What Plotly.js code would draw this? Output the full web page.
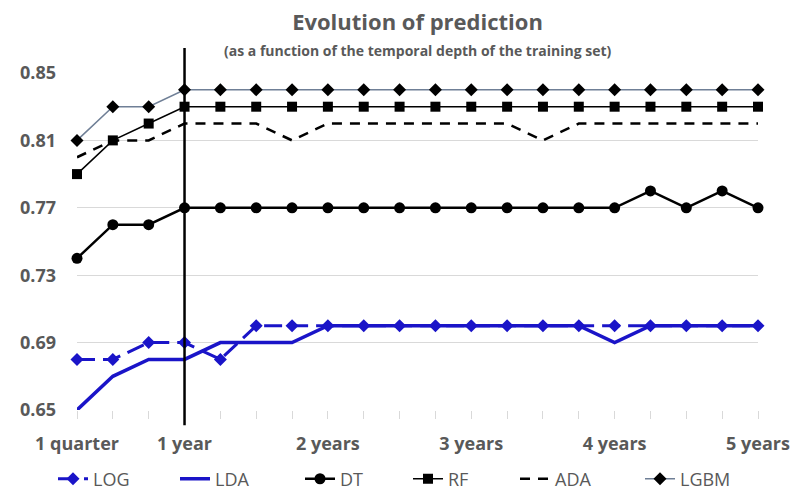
<!DOCTYPE html>
<html>
<head>
<meta charset="utf-8">
<script src="https://cdn.plot.ly/plotly-3.0.1.min.js"></script>
<style>html,body{margin:0;padding:0;background:#fff;}#chart{width:798px;height:490px;}</style>
</head>
<body>
<div id="chart"></div>
<script>
const xIdx = [1,2,3,4,5,6,7,8,9,10,11,12,13,14,15,16,17,18,19,20];
const tickPositions = [1,4,8,12,16,20];
const tickLabels = ["1 quarter","1 year","2 years","3 years","4 years","5 years"];
const yTicks = [0.65,0.69,0.73,0.77,0.81,0.85];

const LOG  = [0.68,0.68,0.69,0.69,0.68,0.70,0.70,0.70,0.70,0.70,0.70,0.70,0.70,0.70,0.70,0.70,0.70,0.70,0.70,0.70];
const LDA  = [0.65,0.67,0.68,0.68,0.69,0.69,0.69,0.70,0.70,0.70,0.70,0.70,0.70,0.70,0.70,0.69,0.70,0.70,0.70,0.70];
const DT   = [0.74,0.76,0.76,0.77,0.77,0.77,0.77,0.77,0.77,0.77,0.77,0.77,0.77,0.77,0.77,0.77,0.78,0.77,0.78,0.77];
const RF   = [0.79,0.81,0.82,0.83,0.83,0.83,0.83,0.83,0.83,0.83,0.83,0.83,0.83,0.83,0.83,0.83,0.83,0.83,0.83,0.83];
const ADA  = [0.80,0.81,0.81,0.82,0.82,0.82,0.81,0.82,0.82,0.82,0.82,0.82,0.82,0.81,0.82,0.82,0.82,0.82,0.82,0.82];
const LGBM = [0.81,0.83,0.83,0.84,0.84,0.84,0.84,0.84,0.84,0.84,0.84,0.84,0.84,0.84,0.84,0.84,0.84,0.84,0.84,0.84];
const markerYear = 4;

const blue = '#1a14c8';
const grey = '#595959';
const font = '"Open Sans", sans-serif';

const traces = [
  {name:'LOG', x:xIdx, y:LOG, mode:'lines+markers', line:{color:blue, width:3, dash:'18px,8px'}, marker:{symbol:'diamond', size:10, color:blue}},
  {name:'LDA', x:xIdx, y:LDA, mode:'lines', line:{color:blue, width:3.5}},
  {name:'DT', x:xIdx, y:DT, mode:'lines+markers', line:{color:'#000', width:2.5}, marker:{symbol:'circle', size:11, color:'#000'}},
  {name:'RF', x:xIdx, y:RF, mode:'lines+markers', line:{color:'#000', width:1.5}, marker:{symbol:'square', size:10, color:'#000'}},
  {name:'ADA', x:xIdx, y:ADA, mode:'lines', line:{color:'#000', width:2.5, dash:'10px,8px'}},
  {name:'LGBM', x:xIdx, y:LGBM, mode:'lines+markers', line:{color:'#6f7f96', width:1.5}, marker:{symbol:'diamond', size:10, color:'#000'}}
];

const layout = {
  width:798, height:490,
  showlegend:true,
  margin:{l:77, r:40, t:73, b:80, autoexpand:false},
  paper_bgcolor:'#fff', plot_bgcolor:'#fff',
  font:{family:font, color:grey},
  title:{text:'<b>Evolution of prediction</b>', x:0.5, xref:'paper', xanchor:'center', y:0.955, yanchor:'middle', font:{family:font, size:22, color:grey}},
  annotations:[{text:'<b>(as a function of the temporal depth of the training set)</b>', xref:'paper', yref:'paper', x:0.5, y:1.068, xanchor:'center', yanchor:'middle', showarrow:false, font:{family:font, size:14, color:grey}}],
  xaxis:{range:[1,20], tickvals:tickPositions, ticktext:tickLabels, showgrid:false, zeroline:false,
    showline:false, ticks:'outside', ticklen:8, tickcolor:'#d9d9d9', ticklabelstandoff:9,
    minor:{dtick:1, tick0:1, ticks:'outside', ticklen:8, tickcolor:'#d9d9d9', showgrid:false},
    tickfont:{family:font, size:18, color:grey, weight:'bold'}},
  yaxis:{range:[0.65,0.85], tickvals:yTicks, tickformat:'.2f', showgrid:true, gridcolor:'#d9d9d9', gridwidth:1,
    zeroline:false, showline:false, ticks:'', ticklabelstandoff:20,
    tickfont:{family:font, size:18, color:grey, weight:'bold'}},
  shapes:[{type:'line', xref:'x', yref:'paper', x0:markerYear, x1:markerYear, y0:-0.045, y1:1.074, line:{color:'#000', width:2.5}}]
};

// one legend box per entry so each can sit where the reference shows it
const legendLeft = [58, 180, 305, 413, 520, 645];
traces.forEach((t, i) => {
  t.cliponaxis = false;
  t.showlegend = true;
  const key = i === 0 ? 'legend' : 'legend' + (i + 1);
  t.legend = key;
  layout[key] = {visible:true, orientation:'h', xref:'container', x:(legendLeft[i] - 5) / 798, xanchor:'left',
    y:-0.15, yanchor:'top', font:{family:font, size:18, color:grey}, bgcolor:'rgba(0,0,0,0)'};
});

Plotly.newPlot('chart', traces, layout, {displayModeBar:false, staticPlot:true});
</script>
</body>
</html>
